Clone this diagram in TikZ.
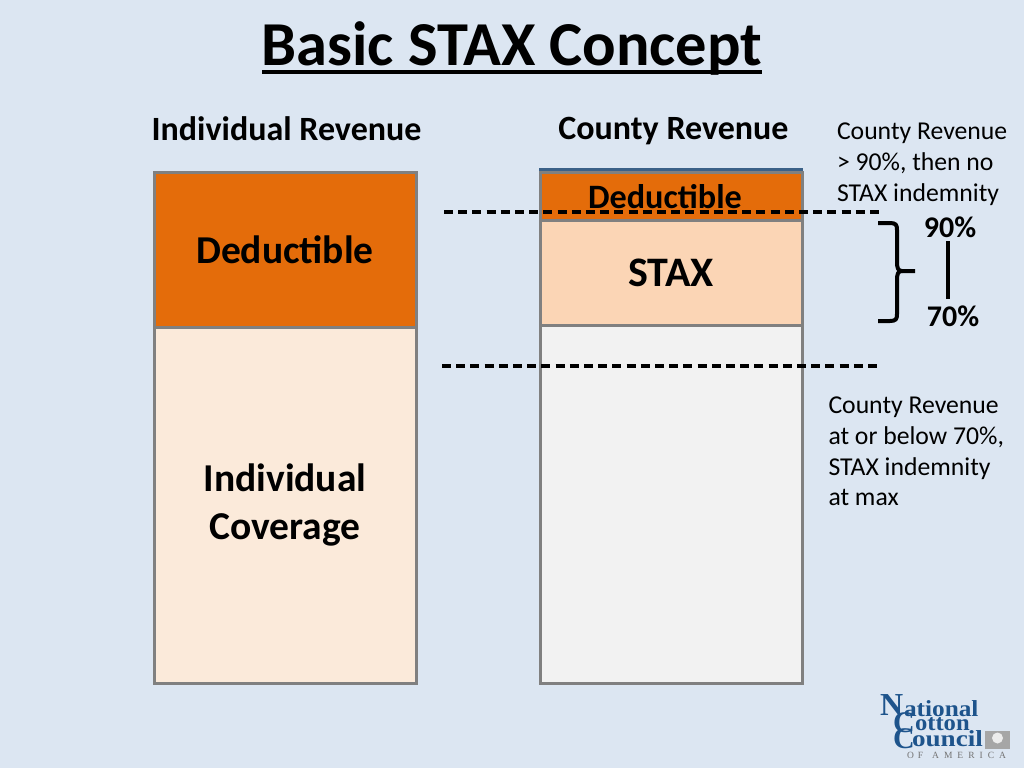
\documentclass[tikz,border=0pt]{standalone}
\usepackage{fontspec}
\setmainfont{Carlito}
\newfontfamily\logofont{Liberation Serif}
\usepackage{tikz}
\usetikzlibrary{positioning}
\definecolor{slidebg}{RGB}{220,230,242}
\definecolor{dedorange}{RGB}{228,108,10}
\definecolor{staxpeach}{RGB}{251,213,181}
\definecolor{covercream}{RGB}{251,234,218}
\definecolor{countygray}{RGB}{242,242,242}
\definecolor{boxline}{RGB}{128,128,128}
\definecolor{nccblue}{RGB}{30,84,140}
\tikzset{
x=1pt, y=-1pt,
every node/.style={inner sep=0pt, outer sep=0pt},
revbox/.style={draw=boxline, line width=3pt, minimum width=262pt, anchor=north west, align=center, font=\bfseries\fontsize{39.5}{48}\selectfont},
heading/.style={font=\bfseries\fontsize{34}{38}\selectfont},
note/.style={align=left, anchor=north west, font=\fontsize{25.7}{30.7}\selectfont},
pct/.style={font=\bfseries\fontsize{30}{32}\selectfont},
cutline/.style={dash pattern=on 9pt off 5.2pt, line width=3.6pt},
logotext/.style={text=nccblue, anchor=west, font=\logofont\bfseries\fontsize{23}{23}\selectfont},
logocap/.style={text=nccblue, anchor=west, font=\logofont\bfseries\fontsize{30}{30}\selectfont},
}
\begin{document}
\begin{tikzpicture}
\useasboundingbox[fill=slidebg] (0,0) rectangle (1024,768);
% title
\node[font=\bfseries\fontsize{62.5}{66}\selectfont] (title) at (512,48) {Basic STAX Concept};
\coordinate (ruleL) at (262,72);
\coordinate (ruleR) at (762,72);
\draw[line width=3.4pt] (ruleL) -- (ruleR);
% left column
\node[heading] (indhead) at (286.5,129) {Individual Revenue};
\node[revbox, fill=dedorange, minimum height=155pt] (ded1) at (154,172) {Deductible};
\node[revbox, fill=covercream, minimum height=356pt, below=0pt of ded1] (cover) {};
\node[align=center, font=\bfseries\fontsize{39.5}{48}\selectfont] (covertext) at (285,505) {Individual\\Coverage};
% right column
\node[heading] (counthead) at (673.5,131) {County Revenue};
\node[revbox, fill=dedorange, minimum height=48pt] (ded2) at (540,172) {};
\node[revbox, fill=staxpeach, minimum height=105pt, below=0pt of ded2] (stax) {\fontsize{42}{48}\selectfont STAX};
\node[revbox, fill=countygray, minimum height=358pt, below=0pt of stax] (county) {};
\coordinate (capL) at (539,169.5);
\coordinate (capR) at (803,169.5);
\draw[line width=2.4pt, draw=nccblue!70!gray] (capL) -- (capR);
\node[font=\bfseries\fontsize{34.2}{36}\selectfont] (dedtext) at (665,197) {Deductible};
% dashed levels
\coordinate (top1) at (444,212);
\coordinate (top2) at (881,212);
\coordinate (low1) at (442,366);
\coordinate (low2) at (880,366);
\draw[cutline] (top1) -- (top2);
\draw[cutline] (low1) -- (low2);
% notes
\node[note] (noteup) at (837,123) {County Revenue\\> 90\%, then no\\STAX indemnity};
\node[note] (notelow) at (828.5,397) {County Revenue\\at or below 70\%,\\STAX indemnity\\at max};
% brace and range
\node[pct] (p90) at (950,227) {90\%};
\node[pct] (p70) at (953,316) {70\%};
\coordinate (barT) at (948,241);
\coordinate (barB) at (948,299);
\draw[line width=3.6pt] (barT) -- (barB);
\coordinate (braceA) at (878,223);
\coordinate (braceB) at (878,321);
\coordinate (braceC) at (915,271);
\draw[line width=4pt, line join=round] (braceA) -- (890,223) .. controls (896,223) and (897,225) .. (897,230) -- (897,262) .. controls (897,268) and (898,271) .. (902,271) -- (braceC);
\draw[line width=4pt, line join=round] (braceB) -- (890,321) .. controls (896,321) and (897,319) .. (897,314) -- (897,280) .. controls (897,274) and (898,271) .. (902,271);
% logo
\node[logocap, font=\logofont\bfseries\fontsize{32}{32}\selectfont] (logoN) at (880,705) {N};
\node[logotext] (logo1) at (904,709) {\scalebox{1.1}[1]{ational}};
\node[logotext] (logo2) at (915,724) {\scalebox{1.07}[1]{otton}};
\node[logotext] (logo3) at (912,739) {\scalebox{1.18}[1]{ouncil}};
\node[logocap] (logoC1) at (893,723) {C};
\node[logocap] (logoC2) at (893,739) {C};
\node[fill=gray!70, minimum width=25pt, minimum height=18pt, anchor=north west] (logobox) at (985,731) {};
\node[circle, fill=white!85!gray, minimum size=11pt] (logoboll) at (997.5,738) {};
\node[text=gray!90!black, anchor=west, font=\logofont\fontsize{9.5}{10}\selectfont] (logoamerica) at (907,755) {O\hspace{4pt}F\hspace{9pt}A\hspace{5pt}M\hspace{5pt}E\hspace{5pt}R\hspace{5pt}I\hspace{5pt}C\hspace{5pt}A};
\end{tikzpicture}
\end{document}
